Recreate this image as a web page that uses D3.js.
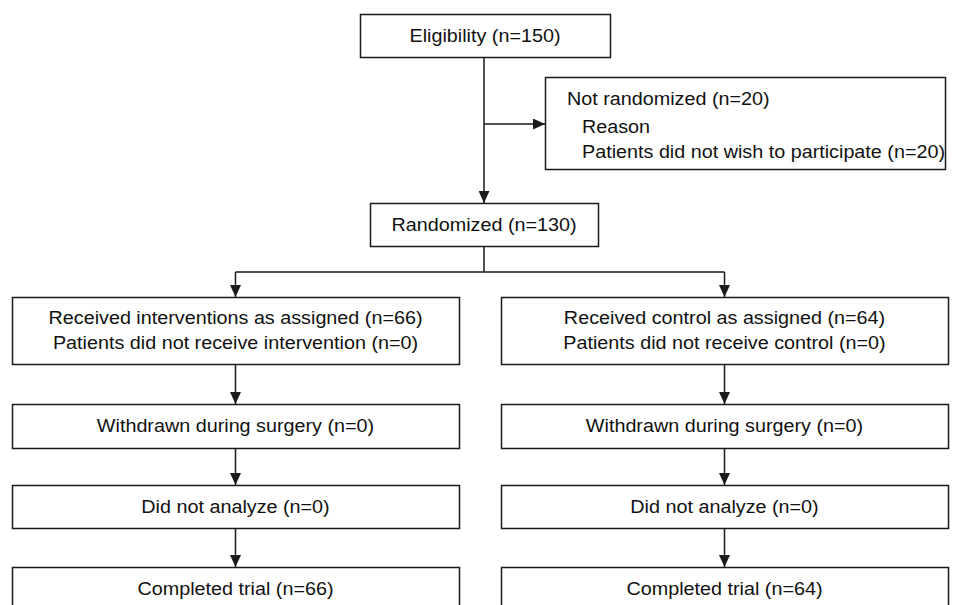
<!DOCTYPE html>
<html>
<head>
<meta charset="utf-8">
<script src="https://cdn.jsdelivr.net/npm/d3@7"></script>
<style>
  body { margin: 0; background: #fff; }
  svg { display: block; overflow: hidden; }
  text { font-family: "Liberation Sans", Arial, sans-serif; font-size: 17.5px; fill: #111; }
</style>
</head>
<body>
<div id="flow"></div>
<script>
// Flow chart text
const topLabels = ["Eligibility (n=150)", "Randomized (n=130)"];
const excludedLabels = ["Not randomized (n=20)", "Reason", "Patients did not wish to participate (n=20)"];
const groups = ["intervention", "control"];
const interventionSteps = [
  ["Received interventions as assigned (n=66)", "Patients did not receive intervention (n=0)"],
  ["Withdrawn during surgery (n=0)"],
  ["Did not analyze (n=0)"],
  ["Completed trial (n=66)"]
];
const controlSteps = [
  ["Received control as assigned (n=64)", "Patients did not receive control (n=0)"],
  ["Withdrawn during surgery (n=0)"],
  ["Did not analyze (n=0)"],
  ["Completed trial (n=64)"]
];

// Dimensions
const width = 956;
const height = 605;
const stroke = "#1a1a1a";
const stretch = 1.13; // text in the source is a bit wider than Arial

const svg = d3.select("#flow")
    .append("svg")
    .attr("width", width)
    .attr("height", height);

svg.append("defs").append("marker")
    .attr("id", "arrow")
    .attr("viewBox", "0 0 12 11")
    .attr("refX", 12)
    .attr("refY", 5.5)
    .attr("markerWidth", 12)
    .attr("markerHeight", 11)
    .attr("markerUnits", "userSpaceOnUse")
    .attr("orient", "auto")
    .append("path")
    .attr("d", "M0,0L12,5.5L0,11Z")
    .attr("fill", stroke);

// Column scale for the two arms
const x = d3.scaleBand()
    .domain(groups)
    .range([12, 948])
    .paddingInner(42 / 489);

// Row scale for the steps in each arm
const rowTop = d3.scaleOrdinal()
    .domain(d3.range(interventionSteps.length))
    .range([297, 404, 485, 567]);
const rowHeight = d3.scaleOrdinal()
    .domain(d3.range(interventionSteps.length))
    .range([67, 44, 43, 46]);

const centerX = 484;

function box(x0, y0, w, h) {
    svg.append("rect")
        .attr("x", x0 + 0.5)
        .attr("y", y0 + 0.5)
        .attr("width", w)
        .attr("height", h)
        .attr("fill", "#fff")
        .attr("stroke", stroke)
        .attr("stroke-width", 1.5);
}

function line(points, arrow) {
    const p = svg.append("path")
        .attr("d", d3.line()(points))
        .attr("fill", "none")
        .attr("stroke", stroke)
        .attr("stroke-width", 1.5);
    if (arrow) p.attr("marker-end", "url(#arrow)");
}

function label(tx, ty, t, anchor) {
    svg.append("text")
        .attr("transform", "translate(" + tx + "," + ty + ") scale(" + stretch + ",1)")
        .attr("dy", "0.35em")
        .attr("text-anchor", anchor)
        .text(t);
}

// Top part
const topBoxes = [{y: 14, h: 43, x0: 360, x1: 610}, {y: 203, h: 43, x0: 370, x1: 598}];

line([[centerX, 57], [centerX, 203]], true);
line([[centerX, 124], [545, 124]], true);

topBoxes.forEach((b, i) => {
    box(b.x0, b.y, b.x1 - b.x0, b.h);
    label((b.x0 + b.x1) / 2, b.y + b.h / 2, topLabels[i], "middle");
});

// Excluded box
box(545, 77, 400, 92);
excludedLabels.forEach((t, i) => {
    label(i === 0 ? 567 : 582, [99, 127, 152][i], t, "start");
});

// Split to the two arms
const armCenter = g => x(g) + x.bandwidth() / 2;
line([[centerX, 246], [centerX, 272]], false);
line([[armCenter("intervention"), 272], [armCenter("control"), 272]], false);
groups.forEach(g => line([[armCenter(g), 272], [armCenter(g), 297]], true));

// Arm boxes
[interventionSteps, controlSteps].forEach((steps, gi) => {
    const g = groups[gi];
    steps.forEach((lines, i) => {
        const y0 = rowTop(i);
        const h = rowHeight(i);
        box(x(g), y0, x.bandwidth(), h);
        if (i < steps.length - 1) {
            line([[armCenter(g), y0 + h], [armCenter(g), rowTop(i + 1)]], true);
        }
        const cy = i === steps.length - 1 ? y0 + 21.5 : y0 + h / 2;
        lines.forEach((t, j) => {
            label(armCenter(g), cy + (j - (lines.length - 1) / 2) * 25.5, t, "middle");
        });
    });
});
</script>
</body>
</html>
